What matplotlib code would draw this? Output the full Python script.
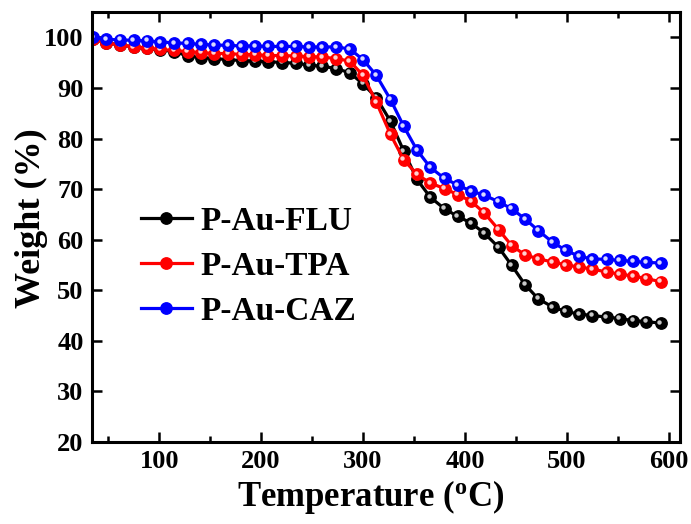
import numpy as np
import matplotlib
matplotlib.use("Agg")
import matplotlib.pyplot as plt
import matplotlib.transforms as mtransforms

plt.rcParams['font.family'] = ['Liberation Serif', 'DejaVu Serif']
plt.rcParams['font.weight'] = 'bold'
plt.rcParams['mathtext.default'] = 'regular'

# temperatures of the plotted points (degC)
temp = [35, 48, 62, 75, 88, 101, 115, 128, 141, 154, 168, 181, 194, 207, 221,
        234, 247, 260, 274, 287, 300, 313, 327, 340, 353, 366, 380, 393, 406,
        419, 433, 446, 459, 472, 486, 499, 512, 525, 539, 552, 565, 578, 592]

# weight (%)
w_flu = [99.7, 98.9, 98.5, 98.1, 97.8, 97.5, 97.2, 96.3, 96.0, 95.8, 95.6, 95.4,
         95.3, 95.2, 95.0, 94.9, 94.5, 94.3, 93.8, 93.0, 90.8, 88.1, 83.4, 77.5,
         71.9, 68.4, 66.1, 64.6, 63.3, 61.3, 58.5, 54.9, 51.1, 48.3, 46.7, 45.8,
         45.3, 45.0, 44.7, 44.4, 44.0, 43.8, 43.5]
w_tpa = [99.7, 98.9, 98.5, 98.1, 97.8, 97.6, 97.4, 97.2, 97.0, 96.8, 96.8, 96.6,
         96.6, 96.4, 96.4, 96.3, 96.2, 96.1, 95.8, 95.3, 92.5, 87.2, 80.8, 75.8,
         72.9, 71.2, 70.1, 68.9, 67.6, 65.3, 62.0, 58.8, 57.0, 56.2, 55.6, 55.0,
         54.6, 54.2, 53.6, 53.2, 52.8, 52.3, 51.7]
w_caz = [100.0, 99.6, 99.5, 99.4, 99.3, 99.1, 98.9, 98.8, 98.6, 98.5, 98.4, 98.3,
         98.3, 98.2, 98.2, 98.2, 98.1, 98.1, 98.1, 97.7, 95.6, 92.5, 87.7, 82.4,
         77.7, 74.3, 72.1, 70.8, 69.6, 68.8, 67.5, 66.1, 64.1, 61.8, 59.5, 57.9,
         56.7, 56.2, 56.1, 55.9, 55.7, 55.5, 55.4]

names = ['P-Au-FLU', 'P-Au-TPA', 'P-Au-CAZ']
colors = ['black', 'red', 'blue']
shine = ['#c8c8c8', '#ffd0d0', '#d8d8ff']

fig = plt.figure(figsize=(6.91, 5.24), dpi=100)
ax = fig.add_axes([0.133, 0.1565, 0.851, 0.8205])

# little offset for the highlight on the sphere markers
off = mtransforms.ScaledTranslation(-1.0 / 72, 1.0 / 72, fig.dpi_scale_trans)

for y, c, s, n in zip([w_flu, w_tpa, w_caz], colors, shine, names):
    ax.plot(temp, y, '-o', color=c, lw=2.3, ms=8.2, mec=c, label=n)
    ax.plot(temp, y, 'o', color=s, ms=3.2, mew=0,
            transform=ax.transData + off)

ax.set_xlim(34, 611)
ax.set_ylim(20, 105)
ax.set_xticks([100, 200, 300, 400, 500, 600])
ax.set_xticks([50, 150, 250, 350, 450, 550], minor=True)
ax.set_yticks([20, 30, 40, 50, 60, 70, 80, 90, 100])

ax.tick_params(which='both', direction='in', top=True, right=True, width=1.8)
ax.tick_params(which='major', length=7, labelsize=19, pad=6)
ax.tick_params(which='minor', length=4.5)
for sp in ax.spines.values():
    sp.set_linewidth(2.2)

ax.set_xlabel('Temperature ($^{o}$C)', fontsize=25, fontweight='bold')
ax.xaxis.set_label_coords(0.475, -0.083)
ax.set_ylabel('Weight (%)', fontsize=26, fontweight='bold')
ax.yaxis.set_label_coords(-0.074, 0.52)

ax.legend(loc='upper left', bbox_to_anchor=(0.06, 0.58), frameon=False,
          fontsize=24, handlelength=1.55, handletextpad=0.25, labelspacing=0.42,
          borderaxespad=0)

fig.savefig('out.png', dpi=100)
